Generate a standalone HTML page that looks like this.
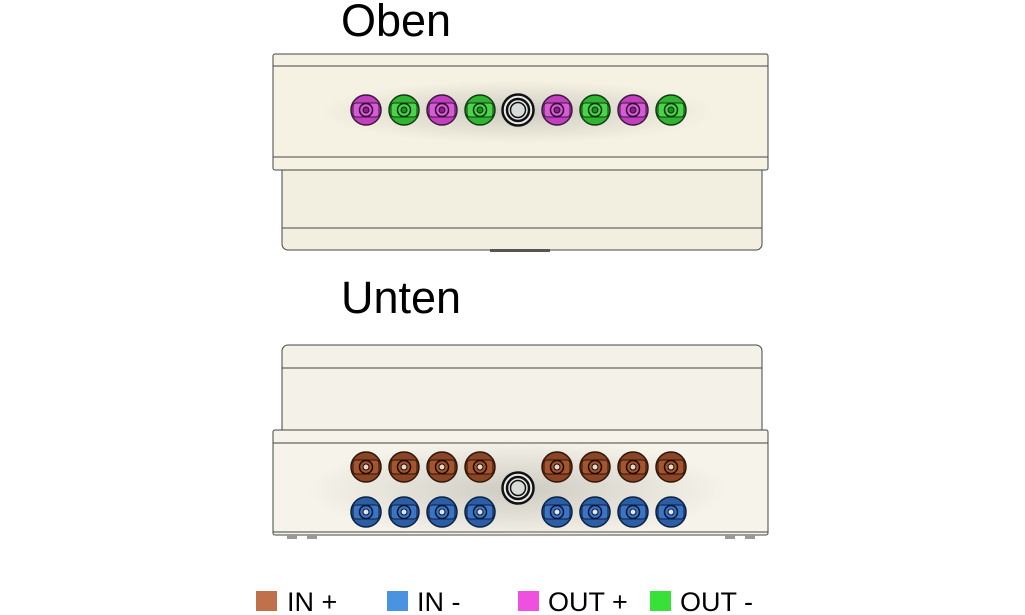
<!DOCTYPE html>
<html><head><meta charset="utf-8"><style>
html,body{margin:0;padding:0;background:#fff;}
svg{display:block;font-family:"Liberation Sans",Arial,sans-serif;}
</style></head><body>
<svg width="1025" height="615" viewBox="0 0 1025 615" xmlns="http://www.w3.org/2000/svg">
<defs>
<radialGradient id="sh" cx="0.5" cy="0.5" r="0.5">
<stop offset="0" stop-color="#c8c6bd" stop-opacity="0.9"/>
<stop offset="1" stop-color="#c8c6bd" stop-opacity="0"/>
</radialGradient>
<g id="pk"><circle r="15" fill="#c23fc0" stroke="#3a1a3a" stroke-width="1.5"/><rect x="-13" y="-7" width="26" height="14" rx="3" fill="#d85ad6" stroke="#3a1a3a"/><circle r="6.5" fill="#d85ad6" stroke="#2a0a2a" stroke-width="1.5"/><circle r="3" fill="#8a208a" stroke="#2a0a2a"/></g>
<g id="gr"><circle r="15" fill="#2fb52f" stroke="#123a12" stroke-width="1.5"/><rect x="-13" y="-7" width="26" height="14" rx="3" fill="#49d549" stroke="#123a12"/><circle r="6.5" fill="#49d549" stroke="#0a2a0a" stroke-width="1.5"/><circle r="3" fill="#1f8f1f" stroke="#0a2a0a"/></g>
<g id="br"><circle r="15" fill="#8a4426" stroke="#301508" stroke-width="1.5"/><rect x="-13" y="-7" width="26" height="14" rx="3" fill="#a2552f" stroke="#301508"/><circle r="6.5" fill="#a2552f" stroke="#1a0a02" stroke-width="1.5"/><circle r="3" fill="#e8d8cc" stroke="#1a0a02"/></g>
<g id="bl"><circle r="15" fill="#2a5fa8" stroke="#0e2040" stroke-width="1.5"/><rect x="-13" y="-7" width="26" height="14" rx="3" fill="#3b74c2" stroke="#0e2040"/><circle r="6.5" fill="#3b74c2" stroke="#0a1530" stroke-width="1.5"/><circle r="3" fill="#dfe6f0" stroke="#0a1530"/></g>
<g id="bk"><circle r="15.5" fill="#e8ebe8" stroke="#111" stroke-width="2.5"/><circle r="11" fill="none" stroke="#111" stroke-width="2.5"/><circle r="7.5" fill="#d8dcd8" stroke="#111" stroke-width="1.5"/></g>
</defs>

<text x="341" y="36" font-size="45" fill="#000">Oben</text>
<text x="341" y="313" font-size="45" fill="#000">Unten</text>

<!-- top box -->
<g stroke="#444" stroke-width="1" fill="#f6f2e3">
<rect x="282" y="165" width="480" height="85" rx="6" fill="#f3efe0"/>
<line x1="282" y1="228" x2="762" y2="228"/>
<rect x="273" y="54" width="495" height="116" rx="2"/>
<line x1="273" y1="66" x2="768" y2="66"/>
<line x1="273" y1="157" x2="768" y2="157"/>
</g>
<ellipse cx="518" cy="112" rx="200" ry="32" fill="url(#sh)"/>
<rect x="490" y="249" width="60" height="3" fill="#555"/>
<use href="#pk" x="366" y="110"/><use href="#gr" x="404" y="110"/><use href="#pk" x="442" y="110"/><use href="#gr" x="480" y="110"/>
<use href="#bk" x="518" y="110"/>
<use href="#pk" x="557" y="110"/><use href="#gr" x="595" y="110"/><use href="#pk" x="633" y="110"/><use href="#gr" x="671" y="110"/>

<!-- bottom box -->
<g stroke="#444" stroke-width="1" fill="#f3f1e8">
<rect x="282" y="345" width="480" height="90" rx="6"/>
<line x1="282" y1="368" x2="762" y2="368"/>
<rect x="273" y="430" width="495" height="105" rx="2" fill="#f5f3ea"/>
<line x1="273" y1="443" x2="768" y2="443"/>
<line x1="273" y1="532" x2="768" y2="532"/>
</g>
<ellipse cx="518" cy="490" rx="210" ry="50" fill="url(#sh)"/>
<g fill="#999"><rect x="287" y="535" width="10" height="4"/><rect x="307" y="535" width="10" height="4"/><rect x="725" y="535" width="10" height="4"/><rect x="745" y="535" width="10" height="4"/></g>
<use href="#br" x="366" y="467"/><use href="#br" x="404" y="467"/><use href="#br" x="442" y="467"/><use href="#br" x="480" y="467"/>
<use href="#br" x="557" y="467"/><use href="#br" x="595" y="467"/><use href="#br" x="633" y="467"/><use href="#br" x="671" y="467"/>
<use href="#bl" x="366" y="512"/><use href="#bl" x="404" y="512"/><use href="#bl" x="442" y="512"/><use href="#bl" x="480" y="512"/>
<use href="#bl" x="557" y="512"/><use href="#bl" x="595" y="512"/><use href="#bl" x="633" y="512"/><use href="#bl" x="671" y="512"/>
<use href="#bk" x="518" y="488"/>

<!-- legend -->
<rect x="256" y="591" width="21" height="20" fill="#c0704a"/>
<text x="287" y="611" font-size="27">IN +</text>
<rect x="387" y="591" width="21" height="20" fill="#4a93e0"/>
<text x="417" y="611" font-size="27">IN -</text>
<rect x="518" y="591" width="21" height="20" fill="#f050e0"/>
<text x="548" y="611" font-size="27">OUT +</text>
<rect x="650" y="591" width="21" height="20" fill="#38e038"/>
<text x="680" y="611" font-size="27">OUT -</text>
</svg>
</body></html>
